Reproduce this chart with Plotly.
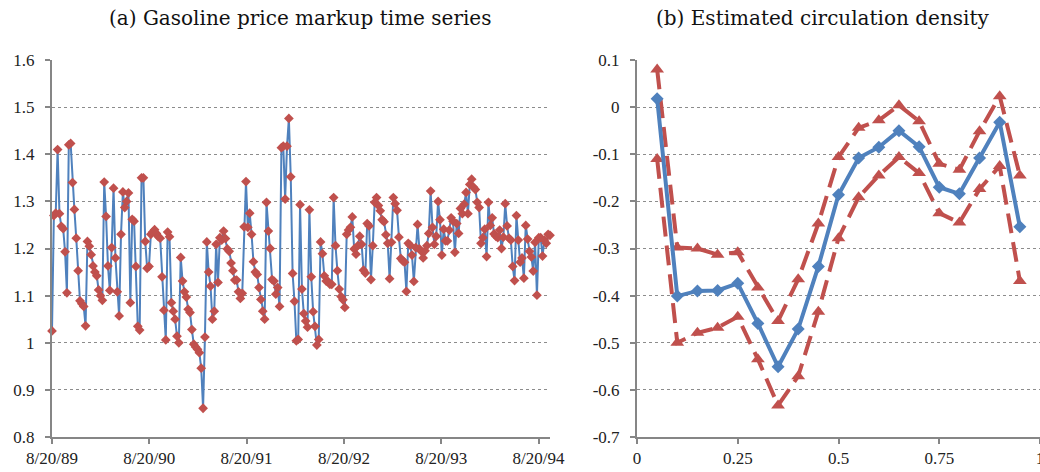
import plotly.graph_objects as go
import pandas as pd

# ---------------- data: (a) weekly gasoline price markup ----------------
markup = [
    1.025, 1.27, 1.275, 1.41, 1.274, 1.247, 1.242, 1.193, 1.106, 1.42,
    1.423, 1.34, 1.283, 1.222, 1.153, 1.089, 1.083, 1.077, 1.036, 1.215,
    1.205, 1.187, 1.163, 1.15, 1.142, 1.112, 1.1, 1.09, 1.341, 1.268,
    1.163, 1.111, 1.202, 1.328, 1.18, 1.108, 1.057, 1.23, 1.32, 1.287,
    1.30, 1.318, 1.085, 1.262, 1.258, 1.162, 1.035, 1.027, 1.35, 1.35,
    1.215, 1.158, 1.162, 1.23, 1.235, 1.24, 1.232, 1.225, 1.222, 1.14,
    1.069, 1.006, 1.235, 1.225, 1.085, 1.067, 1.05, 1.014, 1.0, 1.181,
    1.131, 1.108, 1.097, 1.071, 1.064, 1.028, 0.997, 0.991, 0.986, 0.979,
    0.946, 0.861, 1.012, 1.214, 1.15, 1.12, 1.05, 1.067, 1.209, 1.128,
    1.223, 1.218, 1.237, 1.221, 1.199, 1.194, 1.169, 1.153, 1.133, 1.133,
    1.108, 1.094, 1.105, 1.246, 1.342, 1.245, 1.275, 1.23, 1.172, 1.15,
    1.145, 1.117, 1.092, 1.067, 1.05, 1.298, 1.237, 1.2, 1.134, 1.131,
    1.103, 1.117, 1.077, 1.414, 1.417, 1.305, 1.417, 1.476, 1.352, 1.147,
    1.088, 1.004, 1.007, 1.293, 1.114, 1.062, 1.046, 1.033, 1.282, 1.14,
    1.066, 1.035, 0.995, 1.007, 1.214, 1.189, 1.142, 1.131, 1.13, 1.124,
    1.124, 1.308, 1.206, 1.153, 1.114, 1.098, 1.091, 1.075, 1.23, 1.239,
    1.245, 1.267, 1.199, 1.188, 1.206, 1.226, 1.209, 1.154, 1.148, 1.253,
    1.248, 1.134, 1.206, 1.298, 1.308, 1.291, 1.28, 1.261, 1.257, 1.229,
    1.211, 1.136, 1.213, 1.308, 1.295, 1.281, 1.224, 1.179, 1.174, 1.171,
    1.109, 1.211, 1.207, 1.186, 1.13, 1.202, 1.251, 1.199, 1.194, 1.18,
    1.195, 1.206, 1.232, 1.322, 1.245, 1.209, 1.226, 1.3, 1.261, 1.186,
    1.241, 1.216, 1.216, 1.239, 1.265, 1.258, 1.192, 1.253, 1.232, 1.285,
    1.274, 1.294, 1.319, 1.274, 1.336, 1.347, 1.33, 1.325, 1.298, 1.287,
    1.211, 1.223, 1.241, 1.183, 1.298, 1.249, 1.265, 1.231, 1.226, 1.223,
    1.239, 1.2, 1.224, 1.295, 1.248, 1.222, 1.218, 1.162, 1.132, 1.27,
    1.218, 1.171, 1.18, 1.137, 1.249, 1.22, 1.194, 1.182, 1.152, 1.213,
    1.101, 1.223, 1.223, 1.184, 1.218, 1.211, 1.23, 1.228,
]
start_date = "1989-08-20"
date_tick_vals = ["1989-08-20", "1990-08-20", "1991-08-20",
                  "1992-08-20", "1993-08-20", "1994-08-20"]
date_tick_labels = ["8/20/89", "8/20/90", "8/20/91",
                    "8/20/92", "8/20/93", "8/20/94"]
markup_ticks = [0.8, 0.9, 1.0, 1.1, 1.2, 1.3, 1.4, 1.5, 1.6]
markup_tick_labels = ["0.8", "0.9", "1", "1.1", "1.2", "1.3", "1.4", "1.5", "1.6"]

# ---------------- data: (b) estimated circulation density ----------------
u = [0.05, 0.10, 0.15, 0.20, 0.25, 0.30, 0.35, 0.40, 0.45, 0.50,
     0.55, 0.60, 0.65, 0.70, 0.75, 0.80, 0.85, 0.90, 0.95]
density = [0.018, -0.401, -0.39, -0.389, -0.374, -0.459, -0.551, -0.471, -0.338, -0.186,
           -0.108, -0.085, -0.05, -0.084, -0.17, -0.184, -0.108, -0.032, -0.254]
upper = [0.08, -0.298, -0.30, -0.313, -0.308, -0.383, -0.454, -0.365, -0.247, -0.106,
         -0.044, -0.028, 0.004, -0.03, -0.12, -0.133, -0.051, 0.023, -0.145]
lower = [-0.11, -0.50, -0.479, -0.468, -0.445, -0.535, -0.633, -0.571, -0.434, -0.278,
         -0.191, -0.145, -0.106, -0.14, -0.225, -0.245, -0.174, -0.125, -0.369]
u_ticks = [0, 0.25, 0.5, 0.75, 1]
u_tick_labels = ["0", "0.25", "0.5", "0.75", "1"]
dens_ticks = [0.1, 0, -0.1, -0.2, -0.3, -0.4, -0.5, -0.6, -0.7]
dens_tick_labels = ["0.1", "0", "-0.1", "-0.2", "-0.3", "-0.4", "-0.5", "-0.6", "-0.7"]

BLUE = "#4F81BD"
RED = "#C0504D"
AXIS = "#868686"
GRID = "#8c8c8c"
FONT = "Liberation Serif"
TITLE_FONT = "DejaVu Serif"

dates = pd.date_range(start_date, periods=len(markup), freq="7D")

fig = go.Figure()

fig.add_trace(go.Scatter(
    x=dates, y=markup, mode="lines+markers",
    line=dict(color=BLUE, width=2),
    marker=dict(symbol="diamond", size=7.5, color=RED, line=dict(width=0)),
    xaxis="x", yaxis="y", cliponaxis=False, showlegend=False))

for band in (upper, lower):
    fig.add_trace(go.Scatter(
        x=u, y=band, mode="lines+markers",
        line=dict(color=RED, width=4, dash="20px,9px"),
        marker=dict(symbol="triangle-up", size=12, color=RED, line=dict(width=0)),
        xaxis="x2", yaxis="y2", cliponaxis=False, showlegend=False))

fig.add_trace(go.Scatter(
    x=u, y=density, mode="lines+markers",
    line=dict(color=BLUE, width=4),
    marker=dict(symbol="diamond", size=10, color=BLUE, line=dict(width=0)),
    xaxis="x2", yaxis="y2", cliponaxis=False, showlegend=False))

ydom = [35 / 472, 412 / 472]
tickfont = dict(family=FONT, size=17, color="#222")
common_axis = dict(showline=True, linecolor=AXIS, linewidth=2, zeroline=False,
                   ticks="outside", ticklen=5, tickcolor=AXIS, tickwidth=1.5,
                   tickfont=tickfont, automargin=False)

fig.update_layout(
    width=1040, height=472,
    margin=dict(l=0, r=0, t=0, b=0, autoexpand=False),
    paper_bgcolor="white", plot_bgcolor="white",
    font=dict(family=FONT, color="#222"),
    xaxis=dict(domain=[52 / 1040, 550 / 1040], type="date",
               range=[dates[0], dates[-1]],
               tickvals=date_tick_vals, ticktext=date_tick_labels,
               showgrid=False, anchor="y", **common_axis),
    yaxis=dict(domain=ydom, range=[0.8, 1.6],
               tickvals=markup_ticks, ticktext=markup_tick_labels,
               showgrid=True, gridcolor=GRID, griddash="dot", gridwidth=1,
               ticklabelstandoff=7, anchor="x", **common_axis),
    xaxis2=dict(domain=[637 / 1040, 1.0], range=[0, 1],
                tickvals=u_ticks, ticktext=u_tick_labels,
                showgrid=False, anchor="y2", ticklabeloverflow="allow",
                **common_axis),
    yaxis2=dict(domain=ydom, range=[-0.7, 0.1],
                tickvals=dens_ticks, ticktext=dens_tick_labels,
                showgrid=True, gridcolor=GRID, griddash="dot", gridwidth=1,
                ticklabelstandoff=7, anchor="x2", **common_axis),
    annotations=[
        dict(text="(a) Gasoline price markup time series", x=300 / 1040, y=(472 - 18) / 472,
             xref="paper", yref="paper", showarrow=False, xanchor="center", yanchor="middle",
             font=dict(family=TITLE_FONT, size=20, color="#111")),
        dict(text="(b) Estimated circulation density", x=822 / 1040, y=(472 - 18) / 472,
             xref="paper", yref="paper", showarrow=False, xanchor="center", yanchor="middle",
             font=dict(family=TITLE_FONT, size=20, color="#111")),
    ],
)

fig.write_html("out.html")
